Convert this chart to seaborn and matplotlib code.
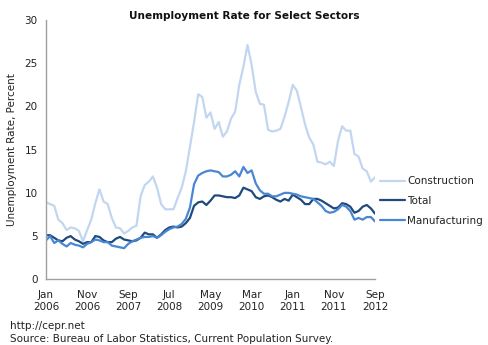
import matplotlib
matplotlib.use("Agg")
import matplotlib.pyplot as plt
import seaborn as sns
import pandas as pd
import numpy as np
from matplotlib.lines import Line2D

months = pd.date_range("2006-01-01", "2012-09-01", freq="MS")

construction = [8.9, 8.7, 8.5, 6.9, 6.5, 5.7, 6.0, 5.9, 5.6, 4.4, 5.7, 6.9,
                8.8, 10.4, 9.0, 8.7, 7.1, 6.0, 5.9, 5.3, 5.6, 6.0, 6.2, 9.6,
                10.9, 11.3, 11.9, 10.6, 8.7, 8.1, 8.1, 8.1, 9.4, 10.6, 12.5, 15.3,
                18.2, 21.4, 21.1, 18.7, 19.3, 17.4, 18.2, 16.5, 17.1, 18.6, 19.4, 22.5,
                24.6, 27.1, 24.8, 21.7, 20.3, 20.2, 17.3, 17.1, 17.2, 17.4, 18.8, 20.5,
                22.5, 21.8, 19.9, 17.9, 16.4, 15.6, 13.6, 13.5, 13.3, 13.6, 13.1, 16.0,
                17.7, 17.2, 17.2, 14.5, 14.2, 12.8, 12.5, 11.3, 11.8]

total = [5.1, 5.1, 4.8, 4.5, 4.4, 4.8, 5.0, 4.6, 4.4, 4.1, 4.3, 4.3,
         5.0, 4.9, 4.5, 4.3, 4.3, 4.7, 4.9, 4.6, 4.5, 4.4, 4.5, 4.8,
         5.4, 5.2, 5.2, 4.8, 5.2, 5.7, 6.0, 6.1, 6.0, 6.1, 6.5, 7.1,
         8.5, 8.9, 9.0, 8.6, 9.1, 9.7, 9.7, 9.6, 9.5, 9.5, 9.4, 9.7,
         10.6, 10.4, 10.2, 9.5, 9.3, 9.6, 9.7, 9.5, 9.2, 9.0, 9.3, 9.1,
         9.8, 9.5, 9.2, 8.7, 8.7, 9.3, 9.3, 9.1, 8.8, 8.5, 8.2, 8.3,
         8.8, 8.7, 8.4, 7.7, 7.9, 8.4, 8.6, 8.2, 7.6]

manufacturing = [4.5, 5.0, 4.2, 4.5, 4.1, 3.8, 4.2, 4.0, 3.9, 3.7, 4.1, 4.3,
                 4.6, 4.5, 4.3, 4.3, 3.9, 3.8, 3.7, 3.6, 4.1, 4.4, 4.6, 4.8,
                 4.9, 4.9, 5.0, 4.8, 5.1, 5.5, 5.8, 6.0, 6.1, 6.4, 7.0, 8.3,
                 11.0, 12.0, 12.3, 12.5, 12.6, 12.5, 12.4, 11.9, 11.9, 12.1, 12.5, 11.9,
                 13.0, 12.3, 12.6, 11.1, 10.3, 9.9, 9.9, 9.6, 9.6, 9.8, 10.0, 10.0,
                 9.9, 9.8, 9.6, 9.5, 9.4, 9.3, 8.9, 8.5, 7.9, 7.7, 7.8, 8.1,
                 8.6, 8.4, 7.9, 6.9, 7.1, 6.9, 7.2, 7.2, 6.7]

tick_labels = ["Jan\n2006", "Nov\n2006", "Sep\n2007", "Jul\n2008", "May\n2009",
               "Mar\n2010", "Jan\n2011", "Nov\n2011", "Sep\n2012"]

series_names = ["Construction", "Total", "Manufacturing"]
colors = {"Construction": "#C2D6F0", "Total": "#1F4A7D", "Manufacturing": "#4A86D2"}

df = pd.DataFrame({"idx": np.arange(len(months)),
                   "Construction": construction,
                   "Total": total,
                   "Manufacturing": manufacturing})
long = df.melt(id_vars="idx", var_name="Series", value_name="Rate")

sns.set_style("white")
plt.rcParams["font.family"] = ["DejaVu Sans"]

fig = plt.figure(figsize=(4.88, 3.45), dpi=100)
ax = fig.add_axes([46/488, 1 - 279.3/345, (375 - 46)/488, (279.3 - 20)/345])

sns.lineplot(data=long, x="idx", y="Rate", hue="Series", hue_order=series_names,
             palette=colors, linewidth=1.6, ax=ax, legend=False)

ax.set_xlim(0, 80)
ax.set_ylim(0, 30)
ax.set_xticks(np.arange(0, 81, 10))
ax.set_xticklabels(tick_labels)
ax.set_yticks(np.arange(0, 31, 5))
ax.set_xlabel("")
ax.set_ylabel("Unemployment Rate, Percent", fontsize=7.5, color="#222222", labelpad=5)

for s in ["top", "right"]:
    ax.spines[s].set_visible(False)
for s in ["left", "bottom"]:
    ax.spines[s].set_color("#A0A0A0")
    ax.spines[s].set_linewidth(1.0)
ax.tick_params(axis="both", which="major", direction="out", length=4, width=1,
               color="#A0A0A0", labelsize=7.5, labelcolor="#222222", pad=2)
ax.tick_params(axis="x", pad=4)

fig.text(0.5, 1 - 16/345, "Unemployment Rate for Select Sectors", fontsize=7.6,
         fontweight="bold", color="#111111", ha="center", va="center")

handles = [Line2D([], [], color=colors[n], linewidth=1.6) for n in series_names]
leg = ax.legend(handles, series_names, loc="center left",
                bbox_to_anchor=((380 - 46) / 329, (279.3 - 201) / 259.3),
                frameon=False, fontsize=7.5, handlelength=2.4, handletextpad=0.2,
                labelspacing=0.92, borderaxespad=0, borderpad=0)
for t in leg.get_texts():
    t.set_color("#222222")

fig.text(10/488, 1 - 326/345, "http://cepr.net", fontsize=7.5, color="#222222", va="center")
fig.text(10/488, 1 - 339/345, "Source: Bureau of Labor Statistics, Current Population Survey.",
         fontsize=7.5, color="#222222", va="center")

fig.savefig("out.png", dpi=100)
